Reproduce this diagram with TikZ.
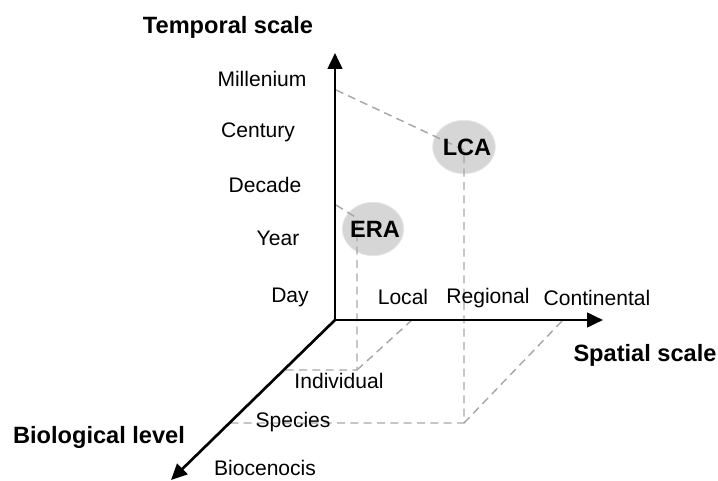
\documentclass[tikz,border=0pt]{standalone}
\usepackage{fontspec}
\setmainfont{Liberation Sans}
\usetikzlibrary{arrows.meta,shapes.geometric}
\definecolor{blobgray}{HTML}{D6D6D6}
\definecolor{dashgray}{HTML}{A8A8A8}
\tikzset{
    axis/.style={line width=2pt, -{Triangle[length=12pt,width=11pt]}},
    guide/.style={draw=dashgray, line width=1.1pt, dash pattern=on 6pt off 4pt},
    tick/.style={font=\fontsize{15.8}{19}\selectfont, inner sep=0pt},
    title/.style={font=\fontsize{17.7}{21}\selectfont\bfseries, inner sep=0pt},
    blob/.style={ellipse, fill=blobgray, draw=blobgray!60, line width=0.6pt, minimum width=46pt, minimum height=40pt}
}
\begin{document}
\begin{tikzpicture}[x=0.75pt, y=-0.75pt]
    \useasboundingbox (0,0) rectangle (718,481);

    % Axis points
    \coordinate (O) at (335,320);
    \coordinate (T) at (335,53);
    \coordinate (S) at (603,320);
    \coordinate (B) at (171,480);

    % Guide points
    \coordinate (mil) at (336,90);
    \coordinate (dec) at (336,205);
    \coordinate (loc) at (412,320);
    \coordinate (con) at (563,320);
    \coordinate (ind) at (284,370);
    \coordinate (spe) at (228,423);
    \coordinate (era_pt) at (357,218);
    \coordinate (lca_pt) at (464,150);
    \coordinate (era_foot) at (357,370);
    \coordinate (lca_foot) at (464,423);

    % Bubbles
    \node [blob] (era) at (373,229) {};
    \node [blob, minimum width=47pt] (lca) at (464,147) {};

    % Guides
    \draw[guide] (mil) -- (lca_pt) -- (lca_foot) -- (spe);
    \draw[guide] (lca_foot) -- (con);
    \draw[guide] (dec) -- (era_pt) -- (era_foot) -- (ind);
    \draw[guide] (era_foot) -- (loc);

    % Arrows
    \draw[axis] (O) -- (T);
    \draw[axis] (O) -- (S);
    \draw[axis] (O) -- (B);

    % Nodes
    \node [title] (era_text) at (375,229) {ERA};
    \node [title] (lca_text) at (467,147) {LCA};

    \node [title] (temporal) at (228,27) {Temporal scale};
    \node [title] (spatial) at (645,355) {Spatial scale};
    \node [title] (biological) at (99,437) {Biological level};

    \node [tick] (millenium) at (262,79) {Millenium};
    \node [tick] (century) at (258,132) {Century};
    \node [tick] (decade) at (265,185) {Decade};
    \node [tick] (year) at (278,238) {Year};
    \node [tick] (day) at (290,297) {Day};

    \node [tick] (local) at (403,297) {Local};
    \node [tick] (regional) at (488,298) {Regional};
    \node [tick] (continental) at (597,298) {Continental};

    \node [tick] (individual) at (339,381) {Individual};
    \node [tick] (species) at (293,422) {Species};
    \node [tick] (biocenocis) at (265,468) {Biocenocis};
\end{tikzpicture}
\end{document}
